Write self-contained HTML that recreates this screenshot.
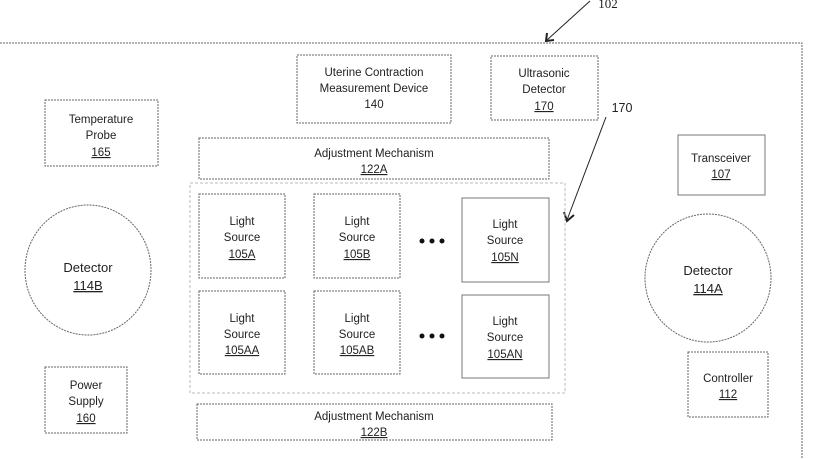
<!DOCTYPE html>
<html><head><meta charset="utf-8"><style>
html,body{margin:0;padding:0;background:#fff;}
svg{display:block;}
text{font-family:"Liberation Sans",sans-serif;font-size:11.5px;fill:#222;text-anchor:middle;}
.b{fill:none;stroke:#666;stroke-width:1;stroke-dasharray:2,1;}
.s{fill:none;stroke:#777;stroke-width:1;}
.u{text-decoration:underline;}
</style></head><body>
<svg width="821" height="459" viewBox="0 0 821 459">
<!-- outer -->
<path d="M0 43 H802 V459" class="b"/>
<!-- 102 arrow -->
<line x1="590" y1="1" x2="547" y2="40" stroke="#222"/>
<path d="M547 33 L546 41 L554 40" fill="none" stroke="#222" stroke-width="2"/>
<text x="608" y="8" style="font-family:'Liberation Serif',serif;font-size:13px">102</text>
<!-- 170 arrow -->
<line x1="606" y1="117" x2="567" y2="220" stroke="#222"/>
<path d="M564 212 L567 221 L574 215" fill="none" stroke="#222" stroke-width="2"/>
<text x="622" y="112" style="font-size:12.5px">170</text>

<rect x="297" y="55" width="154" height="68" class="b"/>
<text x="374" y="76">Uterine Contraction</text>
<text x="374" y="92">Measurement Device</text>
<text x="374" y="108">140</text>

<rect x="491" y="56" width="107" height="64" class="b"/>
<text x="544" y="77">Ultrasonic</text>
<text x="544" y="93">Detector</text>
<text x="544" y="110" class="u">170</text>

<rect x="45" y="100" width="113" height="66" class="b"/>
<text x="101" y="123">Temperature</text>
<text x="101" y="139">Probe</text>
<text x="101" y="156" class="u">165</text>

<rect x="199" y="138" width="350" height="41" class="b"/>
<text x="374" y="157">Adjustment Mechanism</text>
<text x="374" y="173" class="u">122A</text>

<rect x="678" y="135" width="87" height="60" class="s"/>
<text x="721" y="162">Transceiver</text>
<text x="721" y="178" class="u">107</text>

<rect x="190" y="183" width="375" height="210" fill="none" stroke="#bbb" stroke-dasharray="3,2"/>

<rect x="199" y="194" width="86" height="84" class="b"/>
<text x="242" y="225">Light</text><text x="242" y="241">Source</text><text x="242" y="258" class="u">105A</text>
<rect x="314" y="194" width="86" height="84" class="b"/>
<text x="357" y="225">Light</text><text x="357" y="241">Source</text><text x="357" y="258" class="u">105B</text>
<rect x="462" y="198" width="87" height="84" class="s"/>
<text x="505" y="228">Light</text><text x="505" y="244">Source</text><text x="505" y="261" class="u">105N</text>

<rect x="199" y="291" width="86" height="83" class="b"/>
<text x="242" y="322">Light</text><text x="242" y="338">Source</text><text x="242" y="354" class="u">105AA</text>
<rect x="314" y="291" width="86" height="83" class="b"/>
<text x="357" y="322">Light</text><text x="357" y="338">Source</text><text x="357" y="354" class="u">105AB</text>
<rect x="462" y="295" width="87" height="83" class="s"/>
<text x="505" y="325">Light</text><text x="505" y="341">Source</text><text x="505" y="358" class="u">105AN</text>

<g fill="#111">
<circle cx="422" cy="241" r="2.5"/><circle cx="432" cy="241" r="2.5"/><circle cx="442" cy="241" r="2.5"/>
<circle cx="422" cy="336" r="2.5"/><circle cx="432" cy="336" r="2.5"/><circle cx="442" cy="336" r="2.5"/>
</g>

<ellipse cx="88" cy="270" rx="63" ry="65" class="b" stroke="#888"/>
<text x="88" y="272" style="font-size:13px">Detector</text>
<text x="88" y="290" style="font-size:13px" class="u">114B</text>

<ellipse cx="708" cy="278" rx="63" ry="64" class="b" stroke="#888"/>
<text x="708" y="275" style="font-size:13px">Detector</text>
<text x="708" y="293" style="font-size:13px" class="u">114A</text>

<rect x="45" y="367" width="82" height="66" class="b"/>
<text x="86" y="389">Power</text><text x="86" y="405">Supply</text><text x="86" y="422" class="u">160</text>

<rect x="688" y="352" width="80" height="65" class="b"/>
<text x="728" y="382">Controller</text><text x="728" y="398" class="u">112</text>

<rect x="197" y="404" width="355" height="36" class="b"/>
<text x="374" y="420">Adjustment Mechanism</text>
<text x="374" y="436" class="u">122B</text>
</svg>
</body></html>
